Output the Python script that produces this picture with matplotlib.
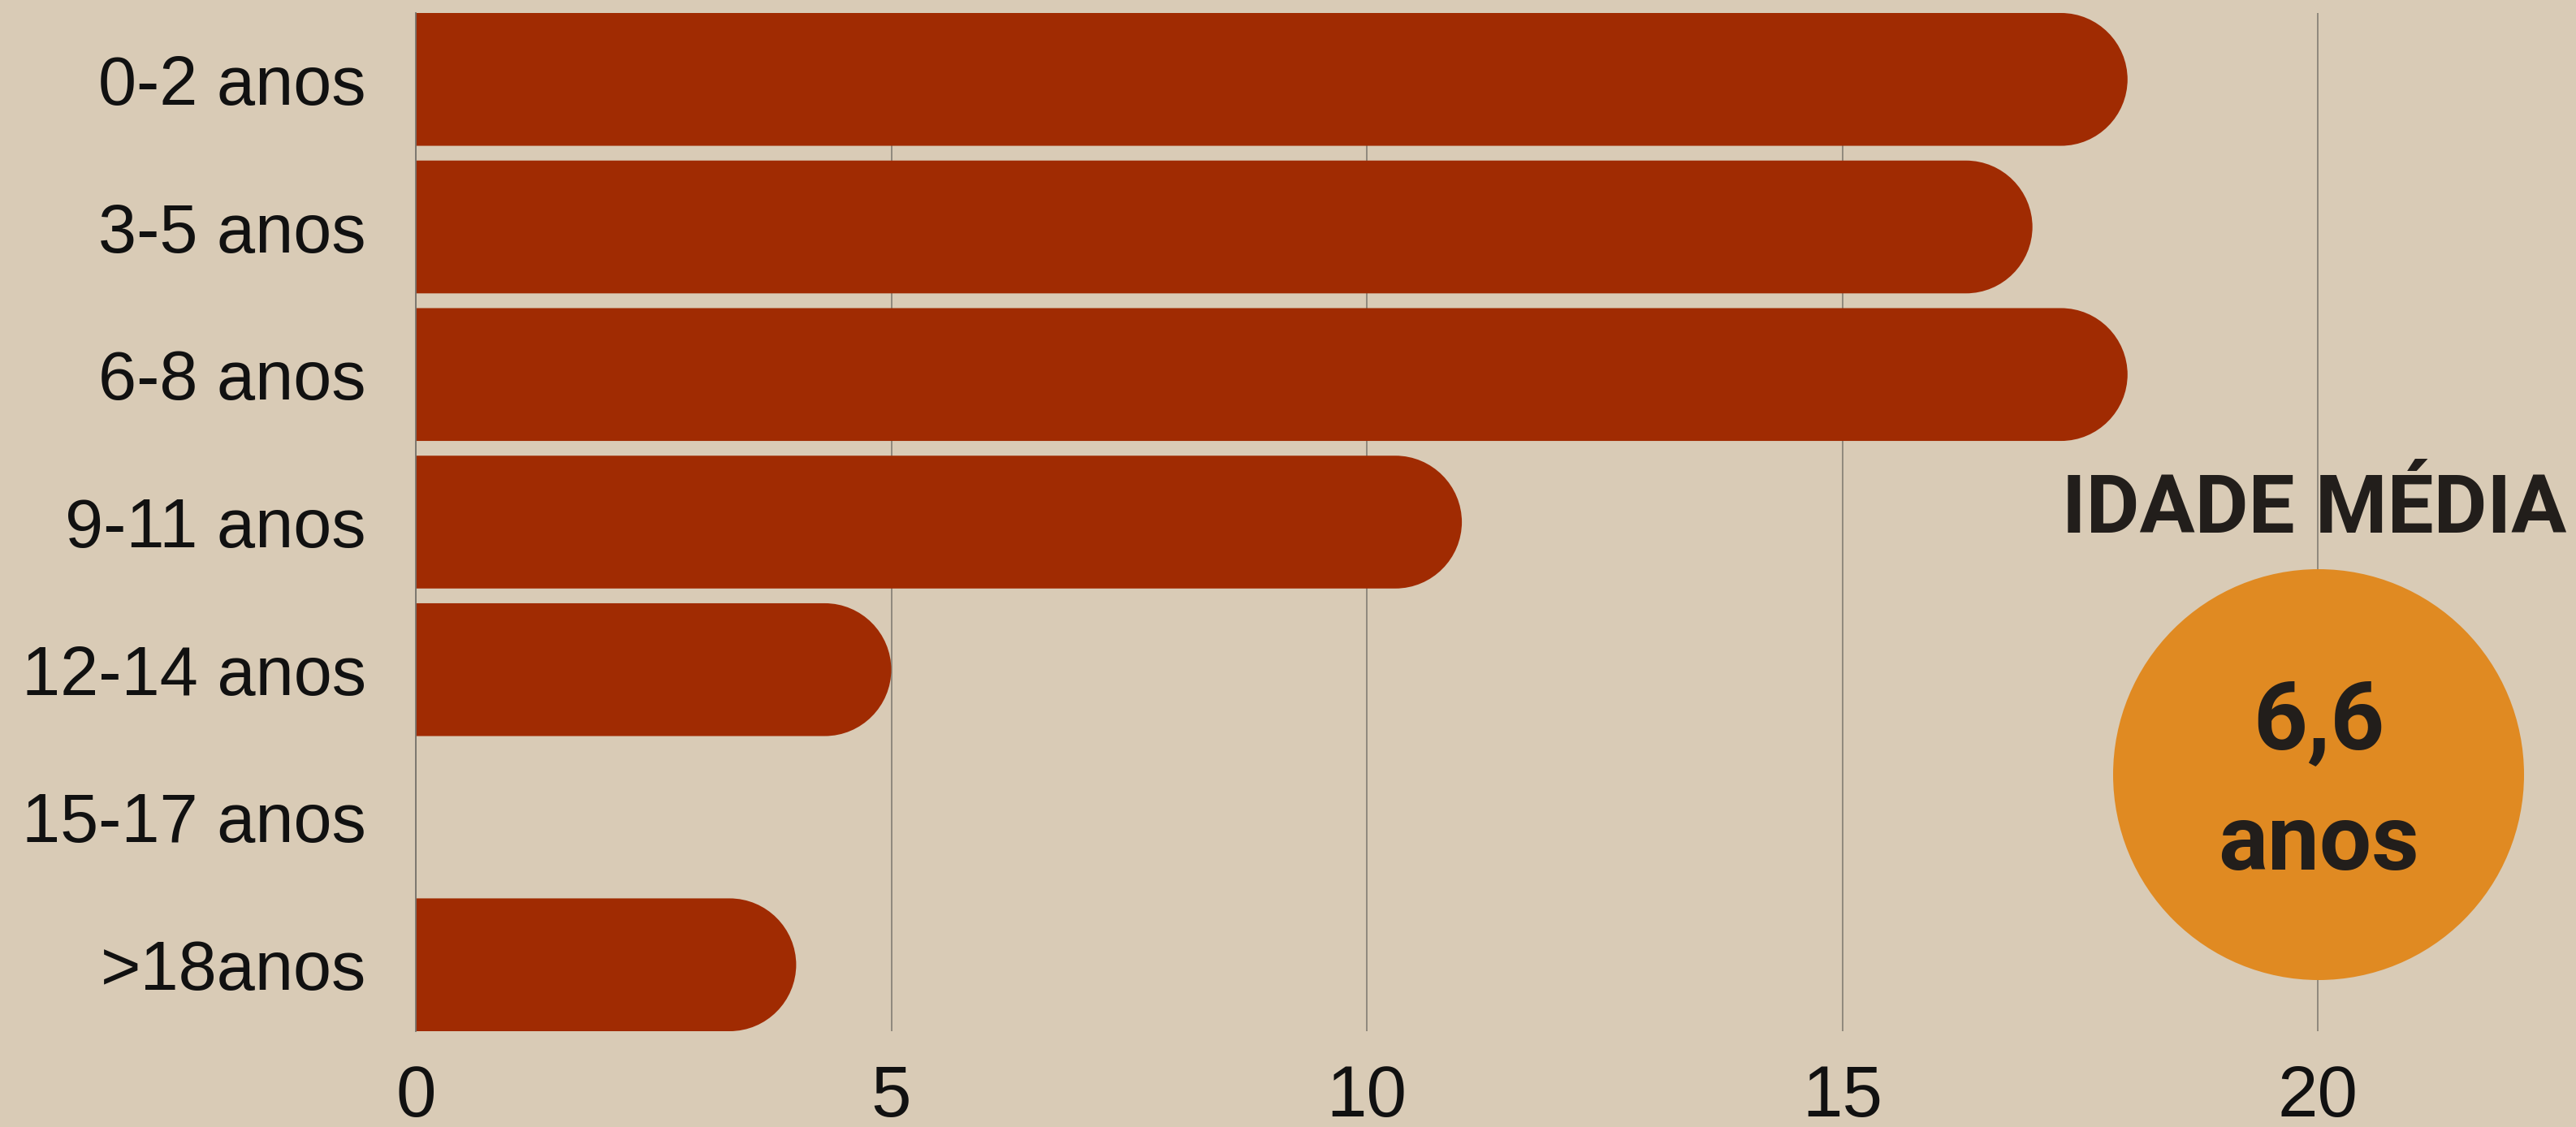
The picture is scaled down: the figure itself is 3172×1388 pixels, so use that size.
import matplotlib
matplotlib.use("Agg")
import matplotlib.pyplot as plt
from matplotlib import font_manager
from matplotlib.patches import PathPatch, Ellipse
from matplotlib.path import Path

# data
categories = ["0-2 anos", "3-5 anos", "6-8 anos", "9-11 anos", "12-14 anos", "15-17 anos", ">18anos"]
counts = [18, 17, 18, 11, 5, 0, 4]
xticks = [0, 5, 10, 15, 20]
media_title = "IDADE MÉDIA"
media_value = "6,6"
media_unit = "anos"

W, H = 3172, 1388
bg = "#d9cbb6"
bar_color = "#a02b02"
circle_color = "#e08a22"
ink = "#221e1b"

installed = {f.name for f in font_manager.fontManager.ttflist}
def pick(*names):
    for n in names:
        if n in installed:
            return n
    return "DejaVu Sans"

label_font = pick("Liberation Sans Narrow", "Liberation Sans", "Roboto")
bold_font = pick("Roboto", "Liberation Sans", "DejaVu Sans")

fig = plt.figure(figsize=(W / 100, H / 100), dpi=100)
fig.patch.set_facecolor(bg)

ax = fig.add_axes([512 / W, 1 - 1270 / H, (W - 512) / W, (1270 - 16) / H])
ax.set_facecolor("none")

y = list(range(len(categories)))
bars = ax.barh(y, counts, height=0.9, color=bar_color, zorder=2)
ax.set_xlim(0, (W - 512) / 117.1)
ax.set_ylim(len(categories) - 0.55, -0.45)

# square left end, rounded right end for every bar
r_px = 82
rx = r_px / 117.1
ry = r_px / 181.2
k = 0.5523
for b in bars:
    x0, y0, w, h = b.get_x(), b.get_y(), b.get_width(), b.get_height()
    b.set_visible(False)
    if w <= 0:
        continue
    x1, y1 = x0 + w, y0 + h
    verts = [(x0, y0), (x1 - rx, y0),
             (x1 - rx + k * rx, y0), (x1, y0 + ry - k * ry), (x1, y0 + ry),
             (x1, y1 - ry),
             (x1, y1 - ry + k * ry), (x1 - rx + k * rx, y1), (x1 - rx, y1),
             (x0, y1), (x0, y0)]
    codes = [Path.MOVETO, Path.LINETO,
             Path.CURVE4, Path.CURVE4, Path.CURVE4,
             Path.LINETO,
             Path.CURVE4, Path.CURVE4, Path.CURVE4,
             Path.LINETO, Path.CLOSEPOLY]
    ax.add_patch(PathPatch(Path(verts, codes), facecolor=bar_color,
                           edgecolor="none", zorder=2))

ax.set_yticks(y)
ax.set_yticklabels(categories, fontfamily=label_font, fontsize=61, color="#111111")
ax.set_xticks(xticks)
ax.set_xticklabels([str(t) for t in xticks], fontfamily=label_font, fontsize=64, color="#111111")
ax.tick_params(axis="y", length=0, pad=44)
ax.tick_params(axis="x", length=0, pad=29)

ax.grid(axis="x", color="#8a8478", linewidth=1.3, zorder=0)
ax.set_axisbelow(True)
for s in ["top", "right", "bottom"]:
    ax.spines[s].set_visible(False)
ax.spines["left"].set_color("#77736b")
ax.spines["left"].set_linewidth(1.3)

# average age badge
cx, cy, rad = 2855, 954, 253
fig.add_artist(Ellipse((cx / W, 1 - cy / H), 2 * rad / W, 2 * rad / H,
                       transform=fig.transFigure, facecolor=circle_color,
                       edgecolor="none", zorder=3))
fig.text(2850 / W, 1 - 629 / H, media_title, ha="center", va="center",
         fontfamily=bold_font, fontweight="bold", fontsize=73, color=ink, zorder=4)
fig.text(cx / W, 1 - 890 / H, media_value, ha="center", va="center",
         fontfamily=bold_font, fontweight="bold", fontsize=84, color=ink, zorder=4)
fig.text(cx / W, 1 - 1040 / H, media_unit, ha="center", va="center",
         fontfamily=bold_font, fontweight="bold", fontsize=82, color=ink, zorder=4)

fig.savefig("out.png", dpi=100, facecolor=bg)
